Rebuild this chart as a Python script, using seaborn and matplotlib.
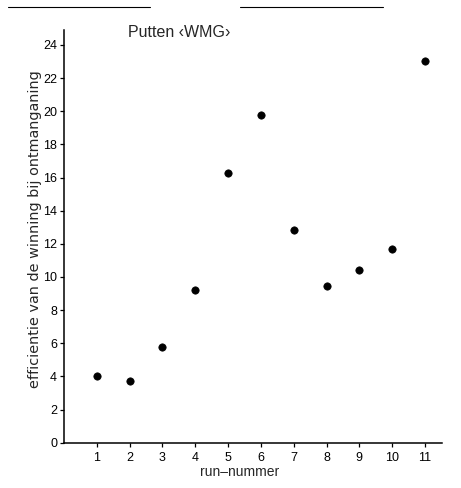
import matplotlib
matplotlib.use("Agg")
import matplotlib.pyplot as plt
import seaborn as sns
import pandas as pd
from matplotlib.lines import Line2D

run = [1, 2, 3, 4, 5, 6, 7, 8, 9, 10, 11]
efficiency = [4.0, 3.75, 5.75, 9.2, 16.25, 19.8, 12.85, 9.45, 10.4, 11.7, 23.0]
yticks = [0, 2, 4, 6, 8, 10, 12, 14, 16, 18, 20, 22, 24]

df = pd.DataFrame({"run": run, "eff": efficiency})

sns.set_style("ticks")
plt.rcParams['font.family'] = ['Liberation Sans', 'DejaVu Sans']

W, H = 461, 488
ax_left, ax_right, ax_bottom, ax_top = 64, 442, 442.7, 30
fig = plt.figure(figsize=(W / 100, H / 100), dpi=100)
ax = fig.add_axes([ax_left / W, 1 - ax_bottom / H, (ax_right - ax_left) / W,
                   (ax_bottom - ax_top) / H])

sns.scatterplot(data=df, x="run", y="eff", ax=ax, color="black", s=28,
                edgecolor="black", linewidth=0.5, zorder=3)

ax.set_xlim(0, 11.52)
ax.set_ylim(0, 24.9)
ax.set_xticks(run)
ax.set_yticks(yticks)
ax.tick_params(axis="both", direction="out", length=3, width=0.9, labelsize=9,
               colors="black")
ax.tick_params(axis="x", pad=4)
ax.tick_params(axis="y", pad=2)
for s in ["top", "right"]:
    ax.spines[s].set_visible(False)
for s in ["left", "bottom"]:
    ax.spines[s].set_linewidth(1.1)
    ax.spines[s].set_color("black")

ax.set_xlabel("run\u2013nummer", fontsize=10)
ax.xaxis.set_label_coords((240 - ax_left) / (ax_right - ax_left),
                          -(472 - ax_bottom) / (ax_bottom - ax_top))
ax.xaxis.label.set_va("center")
ax.set_ylabel("efficientie van de winning bij ontmanganing", fontsize=10.4,
              family="DejaVu Sans")
ax.yaxis.set_label_coords(-(ax_left - 35) / (ax_right - ax_left),
                          (ax_bottom - 229) / (ax_bottom - ax_top))
ax.yaxis.label.set_va("center")

ax.text(1.95, 24.75, "Putten \u2039WMG\u203a", fontsize=11.5, va="center", ha="left")

# scan artifact line at the very top
fig.add_artist(Line2D([8 / W, 150 / W], [1 - 7 / H, 1 - 7 / H], color="black", lw=0.8))
fig.add_artist(Line2D([240 / W, 383 / W], [1 - 7 / H, 1 - 7 / H], color="black", lw=0.8))

fig.savefig("out.png", dpi=100)
